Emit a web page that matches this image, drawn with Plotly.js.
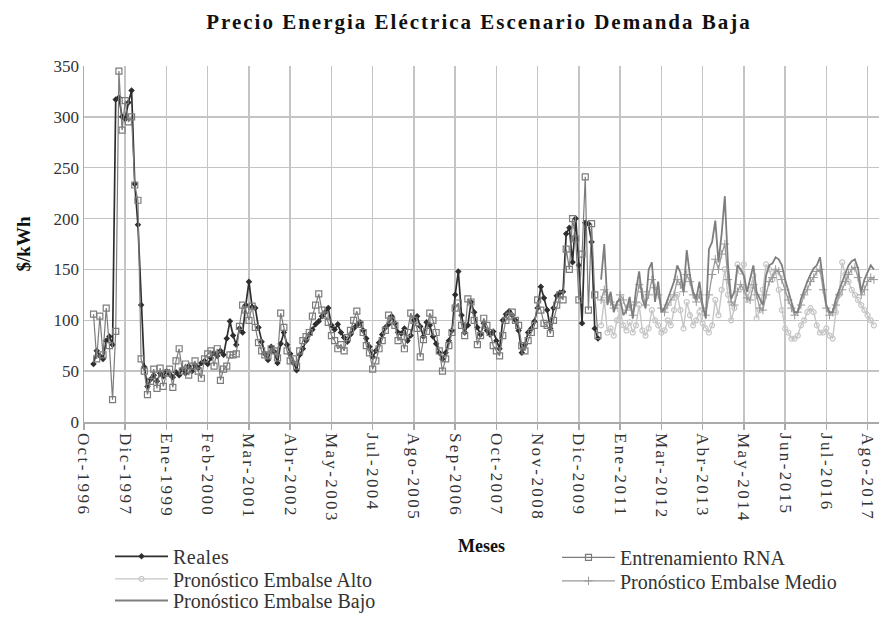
<!DOCTYPE html>
<html>
<head>
<meta charset="utf-8">
<script src="https://cdn.plot.ly/plotly-3.0.1.min.js"></script>
<style>
  html, body { margin: 0; padding: 0; background: #fff; }
  #chart { width: 879px; height: 620px; }
  .legendtext { letter-spacing: 0.5px; }
  .xtick text { letter-spacing: 2.4px; }
  .gtitle { letter-spacing: 2px; }
</style>
</head>
<body>
<div id="chart"></div>
<script>
// ---- Tick labels (category axis, one tick every 13 months) ----
const tickLabels = ['Oct-1996','Dic-1997','Ene-1999','Feb-2000','Mar-2001','Abr-2002','May-2003',
  'Jul-2004','Ago-2005','Sep-2006','Oct-2007','Nov-2008','Dic-2009','Ene-2011','Mar-2012',
  'Abr-2013','May-2014','Jun-2015','Jul-2016','Ago-2017'];
const tickStep = 13;

// ---- Month index where each block of data starts (0 = Oct-1996) ----
const inicioHistorico = 3;
const inicioPronostico = 163;

// ---- Series values ($/kWh), monthly ----
const reales = [
  57,70,65,62,80,84,76,317,319,300,
  298,314,326,234,194,115,54,35,42,46,
  40,48,45,50,47,44,49,46,52,48,
  55,50,56,53,58,60,57,63,68,65,
  70,66,82,99,85,76,92,88,115,138,
  113,112,93,79,67,61,74,69,58,77,
  88,76,67,58,51,66,72,80,86,91,
  96,99,104,108,112,95,91,96,88,83,
  79,86,92,95,98,90,82,74,64,70,
  78,86,93,96,104,97,88,87,92,80,
  85,100,104,94,84,98,95,84,77,68,
  62,68,80,90,125,148,105,88,95,118,
  108,93,86,97,90,86,89,80,72,100,
  106,109,105,100,90,68,76,88,92,99,
  112,133,122,110,92,112,124,127,128,185,
  191,157,200,154,97,196,195,177,92,82
];
const entrenamientoRNA = [
  106,62,104,66,112,75,22,89,345,287,
  316,295,300,233,218,62,50,27,40,52,
  33,53,35,48,52,34,60,72,50,57,
  46,55,60,50,43,62,67,70,55,72,
  41,52,55,66,66,67,94,115,110,100,
  114,93,78,70,66,65,72,70,63,107,
  93,70,60,62,55,70,80,84,88,104,
  115,126,110,105,98,85,80,72,76,70,
  83,90,100,109,96,88,75,68,52,60,
  72,80,90,105,100,95,80,84,72,88,
  107,100,92,64,81,89,107,100,88,70,
  50,62,75,88,112,117,95,85,121,118,
  100,76,85,102,95,88,75,70,65,85,
  100,104,108,100,95,75,70,80,88,95,
  120,110,97,95,87,100,115,125,120,170,
  150,200,180,120,165,241,110,195,125,85
];
const pronosticoAlto = [
  95,120,88,92,85,100,110,95,90,98,
  88,95,115,90,85,92,110,100,95,88,
  90,100,95,110,125,110,92,118,105,95,
  100,108,97,92,88,95,120,105,130,150,
  125,100,112,155,148,155,120,130,144,102,
  110,130,155,150,140,148,130,110,92,88,
  82,82,85,95,100,108,112,108,95,88,
  88,92,85,82,108,125,157,145,138,130,
  125,120,115,110,105,100,95
];
const pronosticoMedio = [
  120,130,125,118,112,115,125,120,110,115,
  105,118,135,128,115,125,140,132,125,112,
  108,115,120,125,140,135,128,145,138,125,
  118,125,112,105,125,145,160,150,165,175,
  140,118,115,128,135,130,122,120,135,125,
  112,110,125,138,142,150,148,140,130,120,
  112,105,108,115,125,130,138,142,148,150,
  130,112,105,108,115,125,130,138,145,150,
  152,142,125,130,138,142,140
];
const pronosticoBajo = [
  140,175,115,128,108,118,121,105,110,123,
  102,130,148,121,112,150,157,118,138,108,
  112,121,130,138,154,147,128,169,144,128,
  121,138,115,102,170,177,198,157,185,222,
  154,121,128,154,150,144,128,140,154,128,
  121,115,144,154,156,162,160,154,140,128,
  118,108,108,121,130,138,145,151,154,162,
  138,115,108,108,121,130,138,146,154,158,
  160,151,128,140,147,154,150
];

const idx = (start, arr) => arr.map((_, k) => start + k);
const tickVals = tickLabels.map((_, k) => k * tickStep);

const serif = 'Liberation Serif';

const traces = [
  { name: 'Reales', x: idx(inicioHistorico, reales), y: reales, mode: 'lines+markers',
    line: { color: '#2e2e2e', width: 1.7 },
    marker: { symbol: 'diamond', size: 5, color: '#2e2e2e' }, legend: 'legend' },
  { name: 'Entrenamiento RNA', x: idx(inicioHistorico, entrenamientoRNA), y: entrenamientoRNA, mode: 'lines+markers',
    line: { color: '#7c7c7c', width: 1.2 },
    marker: { symbol: 'square-open', size: 6, color: '#7c7c7c', line: { width: 1.2, color: '#7c7c7c' } }, legend: 'legend2' },
  { name: 'Pronóstico Embalse Alto', x: idx(inicioPronostico, pronosticoAlto), y: pronosticoAlto, mode: 'lines+markers',
    line: { color: '#c6c6c6', width: 1.4 },
    marker: { symbol: 'circle-open', size: 5, color: '#c6c6c6', line: { width: 1.2, color: '#c6c6c6' } }, legend: 'legend3' },
  { name: 'Pronóstico Embalse Medio', x: idx(inicioPronostico, pronosticoMedio), y: pronosticoMedio, mode: 'lines+markers',
    line: { color: '#9a9a9a', width: 1.3 },
    marker: { symbol: 'cross-thin-open', size: 6, color: '#9a9a9a', line: { width: 1, color: '#9a9a9a' } }, legend: 'legend4' },
  { name: 'Pronóstico Embalse Bajo', x: idx(inicioPronostico, pronosticoBajo), y: pronosticoBajo, mode: 'lines',
    line: { color: '#7e7e7e', width: 1.8 }, legend: 'legend5' }
];

const plotL = 84, plotT = 66, plotB = 429, W = 879, H = 620;
const plotH = plotB - plotT;
const plotW = W - plotL;
const legendFont = { family: serif, size: 20, color: '#333' };
const col1 = (110 - plotL) / plotW, col2 = (557 - plotL) / plotW;
const rowY = px => (plotB - px) / plotH;
const mkLegend = (x, ypx) => ({ x: x, y: rowY(ypx), xanchor: 'left', yanchor: 'middle',
  orientation: 'v', font: legendFont, bgcolor: 'rgba(0,0,0,0)', itemwidth: 53 });

const layout = {
  width: W, height: H,
  margin: { l: plotL, r: 0, t: plotT, b: H - plotB, pad: 0 },
  paper_bgcolor: '#fff', plot_bgcolor: '#fff',
  title: { text: '<b>Precio Energia Eléctrica Escenario Demanda Baja</b>',
    font: { family: serif, size: 21, color: '#111' },
    x: 479 / W, xref: 'container', xanchor: 'center', y: 1 - 22 / H, yref: 'container', yanchor: 'middle' },
  xaxis: {
    range: [0, 250.6], tickmode: 'array', tickvals: tickVals, ticktext: tickLabels,
    tickangle: 90, ticks: 'outside', ticklen: 6, tickwidth: 1.5, tickcolor: '#aaaaaa',
    tickfont: { family: serif, size: 17, color: '#333' },
    showgrid: true, gridcolor: '#c4c4c4', gridwidth: 1.5,
    showline: true, linecolor: '#aaaaaa', linewidth: 1.5, zeroline: false,
    title: { text: '<b>Meses</b>', standoff: 17, font: { family: serif, size: 18, color: '#111' } }
  },
  yaxis: {
    range: [0, 350], dtick: 50, tick0: 0, ticks: '',
    tickfont: { family: serif, size: 17, color: '#333' },
    showgrid: true, gridcolor: '#c4c4c4', gridwidth: 1.5,
    showline: true, linecolor: '#aaaaaa', linewidth: 1.5, zeroline: false,
    title: { text: '<b>$/kWh</b>', standoff: 18, font: { family: serif, size: 19, color: '#111' } }
  },
  showlegend: true,
  legend: mkLegend(col1, 566),
  legend2: mkLegend(col2, 567),
  legend3: mkLegend(col1, 589),
  legend4: mkLegend(col2, 591),
  legend5: mkLegend(col1, 611)
};

Plotly.newPlot('chart', traces, layout, { displayModeBar: false, staticPlot: true });
</script>
</body>
</html>
